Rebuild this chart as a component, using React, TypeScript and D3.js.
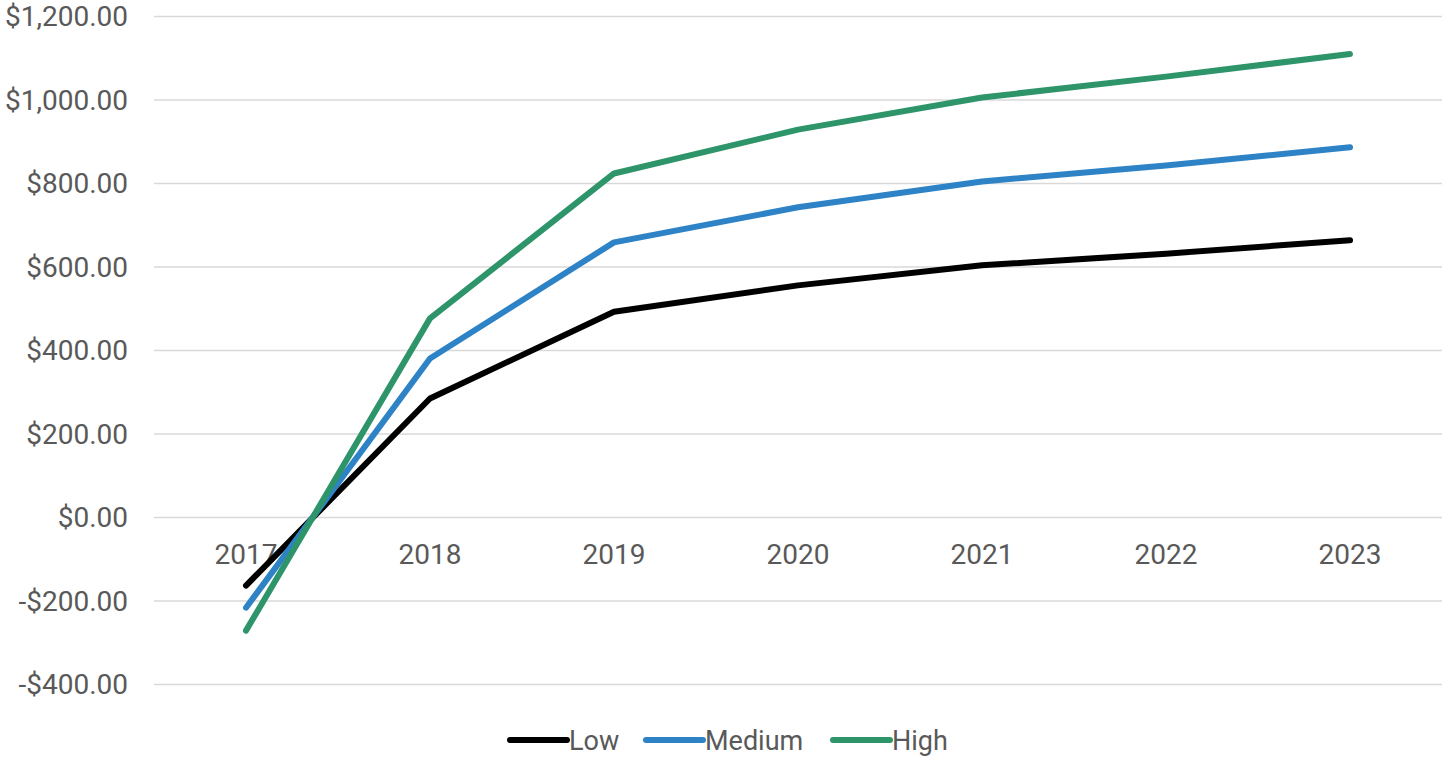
import React, { useRef, useEffect } from 'react';
import * as d3 from 'd3';

const YEARS = ['2017', '2018', '2019', '2020', '2021', '2022', '2023'];
const LOW = [-163, 285, 493, 556, 604, 632, 664];
const MEDIUM = [-216, 381, 659, 743, 805, 843, 887];
const HIGH = [-271, 477, 824, 929, 1006, 1056, 1110];
const Y_TICKS = [-400, -200, 0, 200, 400, 600, 800, 1000, 1200];

const SERIES = [
    { name: 'Low', values: LOW, color: '#000000' },
    { name: 'Medium', values: MEDIUM, color: '#2E83C6' },
    { name: 'High', values: HIGH, color: '#2E9469' },
];

const WIDTH = 1444;
const HEIGHT = 758;
const FONT = 'Roboto, "Noto Sans", sans-serif';

const App: React.FC = () => {
    const ref = useRef<SVGSVGElement>(null);

    useEffect(() => {
        if (!ref.current) return;
        const svg = d3.select(ref.current);
        svg.selectAll('*').remove();

        const x = d3.scaleBand<string>().domain(YEARS).range([154, 1442]);
        const y = d3.scaleLinear().domain([-400, 1200]).range([684.5, 16.5]);
        const fmt = (v: number) => (v < 0 ? '-$' : '$') + d3.format(',.2f')(Math.abs(v));

        // gridlines
        svg.append('g')
            .selectAll('line')
            .data(Y_TICKS)
            .join('line')
            .attr('x1', 154)
            .attr('x2', 1442)
            .attr('y1', d => y(d))
            .attr('y2', d => y(d))
            .attr('stroke', '#D9D9D9')
            .attr('stroke-width', 1.5);

        // y labels
        svg.append('g')
            .selectAll('text')
            .data(Y_TICKS)
            .join('text')
            .attr('x', 128)
            .attr('y', d => y(d))
            .attr('dy', '0.35em')
            .attr('text-anchor', 'end')
            .attr('fill', '#595959')
            .style('font-family', FONT)
            .style('font-size', '28px')
            .text(d => fmt(d));

        // x labels
        svg.append('g')
            .selectAll('text')
            .data(YEARS)
            .join('text')
            .attr('x', d => (x(d) ?? 0) + x.bandwidth() / 2)
            .attr('y', 564)
            .attr('text-anchor', 'middle')
            .attr('fill', '#595959')
            .style('font-family', FONT)
            .style('font-size', '28px')
            .text(d => d);

        const line = d3.line<number>()
            .x((_, i) => (x(YEARS[i]) ?? 0) + x.bandwidth() / 2)
            .y(d => y(d));

        svg.append('g')
            .selectAll('path')
            .data(SERIES)
            .join('path')
            .attr('d', s => line(s.values))
            .attr('fill', 'none')
            .attr('stroke', s => s.color)
            .attr('stroke-width', 6)
            .attr('stroke-linecap', 'round')
            .attr('stroke-linejoin', 'round');

        // legend
        const legendX = [510, 646, 833];
        const lg = svg.append('g')
            .selectAll('g')
            .data(SERIES)
            .join('g')
            .attr('transform', (_, i) => `translate(${legendX[i]}, 740)`);
        lg.append('line')
            .attr('x1', 0)
            .attr('x2', 57)
            .attr('stroke', s => s.color)
            .attr('stroke-width', 6)
            .attr('stroke-linecap', 'round');
        lg.append('text')
            .attr('x', 59)
            .attr('y', 10)
            .attr('fill', '#595959')
            .style('font-family', FONT)
            .style('font-size', '27px')
            .text(s => s.name);
    }, []);

    return (
        <svg ref={ref} width={WIDTH} height={HEIGHT}
            style={{ position: 'absolute', left: 0, top: 0, background: '#fff' }} />
    );
};

export default App;
